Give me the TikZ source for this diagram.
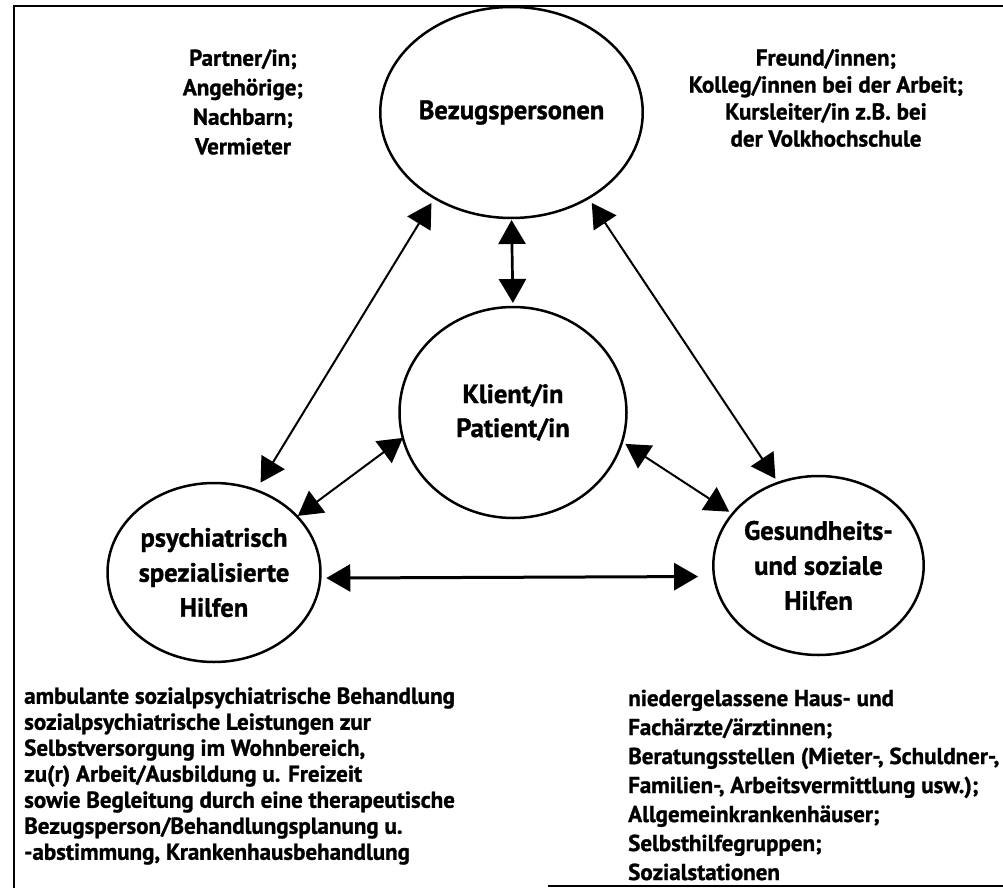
\documentclass[tikz,border=0pt]{standalone}
\usepackage{fontspec}
\setmainfont{PT Sans}[BoldFeatures={FakeBold=1.2}]
\usepackage{tikz,tkz-graph}
\usetikzlibrary{shapes.geometric,arrows.meta}

\begin{document}
\begin{tikzpicture}[x = 1pt, y = -1pt]
\SetVertexNoMath
\tikzstyle{VertexStyle} = []
\tikzstyle{EdgeStyle} = []
\tikzstyle{bigStyle}=[shape = ellipse, draw, line width = 2.5pt, minimum width = 227pt, minimum height = 211pt, inner sep = 0pt, align = center, font = \bfseries\fontsize{26.5}{34}\selectfont]
\tikzstyle{smallStyle}=[shape = ellipse, draw, line width = 2.5pt, minimum width = 190pt, minimum height = 179pt, inner sep = 0pt, align = center, font = \bfseries\fontsize{26.5}{35}\selectfont]
\tikzstyle{listStyle}=[inner sep = 0pt, font = \bfseries\fontsize{23}{28}\selectfont]
\tikzstyle{arrowStyle}=[{Triangle[length=24pt,width=27pt]}-{Triangle[length=24pt,width=27pt]}, line width = 2pt]
\path[use as bounding box] (0,0) rectangle (1003,888);
\draw[line width = 2pt] (1003,6) -- (14,6) -- (14,888);
\draw[line width = 2pt] (548,886) -- (1003,886);
\Vertex[style = bigStyle, x = 511.5, y = 112.5, L = {Bezugspersonen}]{bez}
\Vertex[style = bigStyle, x = 513, y = 412.5, L = {Klient/in\\Patient/in}]{kli}
\Vertex[style = smallStyle, x = 214, y = 572.5, L = {psychiatrisch\\spezialisierte\\Hilfen}]{psy}
\Vertex[style = smallStyle, x = 818.5, y = 565.5, L = {Gesundheits-\\und soziale\\Hilfen}]{ges}
\node[listStyle, align = center, font = \bfseries\fontsize{23}{29.5}\selectfont] (beztl) at (243, 102) {Partner/in;\\Angehörige;\\Nachbarn;\\Vermieter};
\node[listStyle, align = center, font = \bfseries\fontsize{23}{27}\selectfont] (beztr) at (826, 98) {Freund/innen;\\Kolleg/innen bei der Arbeit;\\Kursleiter/in z.B. bei\\der Volkhochschule};
\node[listStyle, align = left, anchor = west, font = \bfseries\fontsize{23}{26}\selectfont] (psytext) at (24, 776) {ambulante sozialpsychiatrische Behandlung\\sozialpsychiatrische Leistungen zur\\Selbstversorgung im Wohnbereich,\\zu(r) Arbeit/Ausbildung u. Freizeit\\sowie Begleitung durch eine therapeutische\\Bezugsperson/Behandlungsplanung u.\\-abstimmung, Krankenhausbehandlung};
\node[listStyle, align = left, anchor = west, font = \bfseries\fontsize{23}{29}\selectfont] (gestext) at (628, 785) {niedergelassene Haus- und\\Fachärzte/ärztinnen;\\Beratungsstellen (Mieter-, Schuldner-,\\Familien-, Arbeitsvermittlung usw.);\\Allgemeinkrankenhäuser;\\Selbsthilfegruppen;\\Sozialstationen};
\path [arrowStyle]
(bez.270) edge [line width = 2.7pt, shorten <= 2pt, shorten >= 4pt] (kli.90)
(bez.228) edge [shorten <= 6pt, shorten >= 9pt] (psy.63)
(bez.312) edge [shorten <= 6pt, shorten >= 5pt] (ges.116)
(kli.193) edge [shorten >= 1pt] (psy.34)
(kli.345) edge [shorten <= 4pt, shorten >= 4pt] (ges.149)
(psy.357) edge [line width = 3pt, shorten <= 6pt, shorten >= 16pt] (ges.186);
\end{tikzpicture}
\end{document}
